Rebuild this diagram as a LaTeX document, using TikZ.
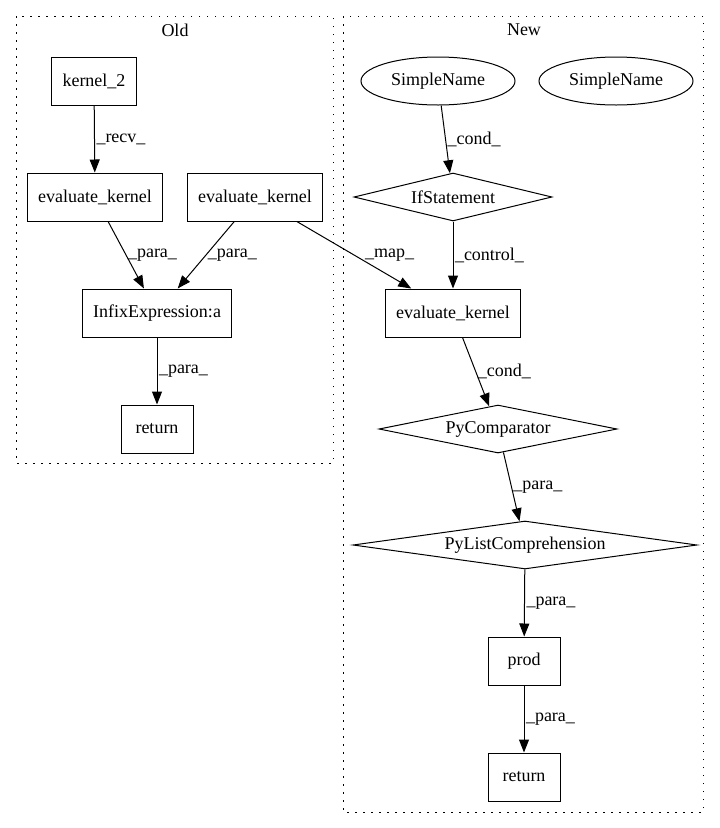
\documentclass[tikz,border=0pt]{standalone}
\usepackage{fontspec}
\setmainfont{Liberation Serif}
\usetikzlibrary{shapes.geometric,arrows.meta}

\begin{document}
\begin{tikzpicture}[x=1pt, y=-1pt, font=\fontsize{18}{22}\selectfont, line width=1pt]
    \useasboundingbox (0, 0) rectangle (720, 828);
    \begin{scope}[box/.style={draw, rectangle, inner xsep=11pt, minimum width=72pt, minimum height=48pt},
                  oval/.style={draw, ellipse, inner sep=0pt, minimum width=154pt, minimum height=48pt},
                  cond/.style={draw, diamond, aspect=6, inner sep=0pt, minimum height=48pt},
                  lbl/.style={midway, anchor=west, inner sep=1.5pt},
                  clus/.style={dash pattern=on 1.5pt off 6.5pt}]
        \draw[clus] (16, 16) rectangle (333, 463);
        \draw[clus] (343, 16) rectangle (703, 812);
        \node (old) at (175, 30) {Old};
        \node (new) at (524, 30) {New};
        \node[box] (k2) at (94, 81) {kernel\_2};
        \node[box] (ek1) at (95, 197) {evaluate\_kernel};
        \node[box] (ek2) at (255, 197) {evaluate\_kernel};
        \node[box] (infix) at (157, 313) {InfixExpression:a};
        \node[box] (ret1) at (157, 429) {return};
        \node[oval] (sn1) at (438, 81) {SimpleName};
        \node[oval] (sn2) at (616, 81) {SimpleName};
        \node[cond, minimum width=198pt] (ifst) at (453, 197) {IfStatement};
        \node[box] (ek3) at (453, 313) {evaluate\_kernel};
        \node[cond, minimum width=238pt] (pycmp) at (498, 429) {PyComparator};
        \node[cond, minimum width=344pt] (pylc) at (525, 545) {PyListComprehension};
        \node[box] (prod) at (524, 661) {prod};
        \node[box] (ret2) at (524, 777) {return};
        \begin{scope}[-{Triangle[length=13pt, width=10pt]}]
        \path (k2) edge node[lbl] {\_recv\_} (ek1);
        \path (ek1) edge node[lbl] {\_para\_} (infix);
        \path (ek2) edge node[lbl] {\_para\_} (infix);
        \path (ek2) edge node[lbl, xshift=9pt] {\_map\_} (ek3);
        \path (infix) edge node[lbl] {\_para\_} (ret1);
        \path (sn1) edge node[lbl] {\_cond\_} (ifst);
        \path (ifst) edge node[lbl] {\_control\_} (ek3);
        \path (ek3) edge node[lbl] {\_cond\_} (pycmp);
        \path (pycmp) edge node[lbl] {\_para\_} (pylc);
        \path (pylc) edge node[lbl] {\_para\_} (prod);
        \path (prod) edge node[lbl] {\_para\_} (ret2);
        \end{scope}
    \end{scope}
\end{tikzpicture}
\end{document}
